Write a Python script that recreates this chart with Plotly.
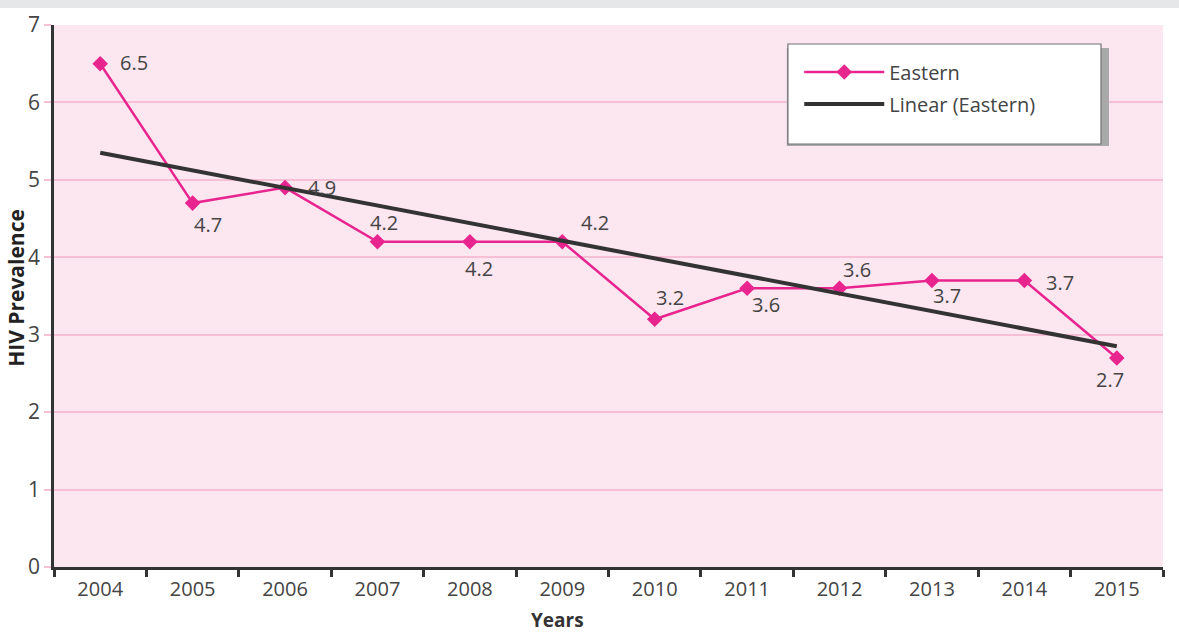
import numpy as np
import plotly.graph_objects as go

# Eastern region HIV prevalence by year
years = ["2004", "2005", "2006", "2007", "2008", "2009",
         "2010", "2011", "2012", "2013", "2014", "2015"]
eastern = [6.5, 4.7, 4.9, 4.2, 4.2, 4.2, 3.2, 3.6, 3.6, 3.7, 3.7, 2.7]
y_ticks = [0, 1, 2, 3, 4, 5, 6, 7]

# least-squares trend line across the years
idx = np.arange(len(years))
slope, intercept = np.polyfit(idx, eastern, 1)
trend = list(intercept + slope * idx)

PINK = "#e8258f"
DARK = "#333333"
TEXT = "#444444"
FONT = "Open Sans"

fig = go.Figure()
fig.add_trace(go.Scatter(
    x=years, y=eastern, name="Eastern", mode="lines+markers",
    line=dict(color=PINK, width=2.5),
    marker=dict(symbol="diamond", size=12, color=PINK),
    legend="legend",
))
fig.add_trace(go.Scatter(
    x=years, y=trend, name="Linear (Eastern)", mode="lines",
    line=dict(color=DARK, width=4),
    legend="legend2",
))

# label placement (pixel offsets from each point); category axis -> use index
label_shift = [(34, 1), (15, -21), (37, 0), (7, 19), (9, -27), (33, 19),
               (15, 22), (19, -16), (17, 19), (15, -15), (36, -2), (-7, -22)]
for i, (v, (dx, dy)) in enumerate(zip(eastern, label_shift)):
    fig.add_annotation(x=i, y=v, text=f"{v:.1f}", showarrow=False,
                       xshift=dx, yshift=dy,
                       font=dict(family=FONT, size=20, color=TEXT))

# axis titles
fig.add_annotation(xref="paper", yref="paper", x=0.4536, y=-0.097,
                   xanchor="center", yanchor="middle",
                   text="<b>Years</b>", showarrow=False,
                   font=dict(family=FONT, size=19, color="#333333"))
fig.add_annotation(xref="paper", yref="paper", x=-0.0343, y=0.515,
                   xanchor="center", yanchor="middle",
                   text="<b>HIV Prevalence</b>", showarrow=False,
                   textangle=-90,
                   font=dict(family=FONT, size=21, color="#222222"))

shapes = [
    # grey band across the top of the page
    dict(type="rect", xref="paper", yref="paper", x0=-0.06, x1=1.02,
         y0=1.0314, y1=1.05, fillcolor="#e6e7e9", line_width=0, layer="below"),
    # legend shadow and box
    dict(type="rect", xref="paper", yref="paper", x0=0.6608, x1=0.9513,
         y0=0.7767, y1=0.9575, fillcolor="#a9a9a9", line_width=0),
    dict(type="rect", xref="paper", yref="paper", x0=0.6618, x1=0.9441,
         y0=0.7804, y1=0.9649, fillcolor="white",
         line=dict(color="#707070", width=1.2)),
]

legend_common = dict(xanchor="left", yanchor="middle",
                     bgcolor="rgba(0,0,0,0)", borderwidth=0,
                     font=dict(family=FONT, size=20, color=TEXT),
                     itemwidth=80)

fig.update_layout(
    width=1179, height=635,
    margin=dict(l=54, r=16, t=25, b=68),
    paper_bgcolor="white",
    plot_bgcolor="#fce6f0",
    font=dict(family=FONT, size=20, color=TEXT),
    shapes=shapes,
    showlegend=True,
    legend=dict(x=0.672, y=0.9133, **legend_common),
    legend2=dict(x=0.672, y=0.8542, **legend_common),
    xaxis=dict(
        type="category", range=[-0.5, len(years) - 0.5], automargin=False,
        showgrid=False, showline=True, linecolor=DARK, linewidth=2.5,
        ticks="outside", tickson="boundaries", ticklen=7, tickwidth=2.5,
        tickcolor=DARK, tickfont=dict(family=FONT, size=20, color=TEXT),
        ticklabelstandoff=2, zeroline=False,
    ),
    yaxis=dict(
        range=[0, 7], tickvals=y_ticks, automargin=False, showgrid=True,
        gridcolor="#f6bfd6", gridwidth=2, zeroline=False,
        showline=True, linecolor=DARK, linewidth=2.5,
        ticks="outside", ticklen=7, tickwidth=2, tickcolor="#f6bfd6",
        tickfont=dict(family=FONT, size=21, color=TEXT),
    ),
)

fig.write_html("out.html")
